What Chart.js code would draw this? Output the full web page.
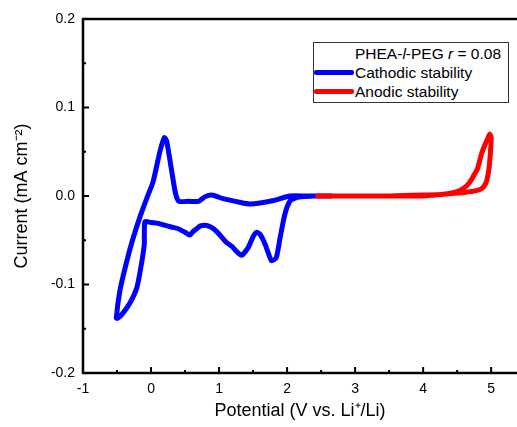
<!DOCTYPE html>
<html>
<head>
<meta charset="utf-8">
<script src="https://cdn.jsdelivr.net/npm/chart.js@4/dist/chart.umd.min.js"></script>
<style>
  html, body { margin: 0; padding: 0; background: #fff; }
  #wrap { position: relative; width: 517px; height: 427px; overflow: hidden; }
  canvas { display: block; }
  #legend {
    position: absolute; left: 313px; top: 42px; width: 194px; height: 59px;
    border: 1px solid #333; background: #fff;
    font-family: "Liberation Sans", Arial, sans-serif; font-size: 15.5px; color: #000;
  }
  #legend .row { position: absolute; left: 0; height: 19px; line-height: 19px; white-space: nowrap; }
  #legend .sw { position: absolute; left: 0; top: 7px; width: 40px; height: 5px; border-radius: 2px; }
  #legend .tx { position: absolute; left: 41px; top: 0; }
</style>
</head>
<body>
<div id="wrap">
  <canvas id="c" width="517" height="427"></canvas>
  <div id="legend">
    <div class="row" style="top:1px;"><span class="tx">PHEA-<i>l</i>-PEG <i>r</i> = 0.08</span></div>
    <div class="row" style="top:20px;"><span class="sw" style="background:#0000ff"></span><span class="tx">Cathodic stability</span></div>
    <div class="row" style="top:39px;"><span class="sw" style="background:#ff0000"></span><span class="tx">Anodic stability</span></div>
  </div>
</div>
<script>
// ---- data ----
const xTicks = [-1, 0, 1, 2, 3, 4, 5];
const yTicks = [-0.2, -0.1, 0.0, 0.1, 0.2];
const xMinorTicks = [-0.5, 0.5, 1.5, 2.5, 3.5, 4.5];
const yMinorTicks = [-0.15, -0.05, 0.05, 0.15];

const cathodicV = [2.65, 2.4, 2.2, 2.1, 2.04, 1.97, 1.9, 1.84, 1.77, 1.68, 1.6, 1.55, 1.5, 1.43, 1.33, 1.25, 1.19, 1.1, 1.0, 0.92, 0.85, 0.79, 0.72, 0.67, 0.62, 0.57, 0.5, 0.4, 0.3, 0.2, 0.11, 0.0, -0.09, -0.1, -0.15, -0.21, -0.31, -0.43, -0.49, -0.51, -0.46, -0.38, -0.28, -0.16, -0.06, 0.03, 0.13, 0.196, 0.23, 0.3, 0.36, 0.41, 0.55, 0.7, 0.79, 0.88, 0.95, 1.06, 1.3, 1.46, 1.8, 2.04, 2.3, 2.65];
const cathodicI = [0, 0, -0.001, -0.003, -0.006, -0.02, -0.046, -0.07, -0.073, -0.055, -0.043, -0.041, -0.046, -0.058, -0.067, -0.062, -0.057, -0.052, -0.043, -0.037, -0.034, -0.033, -0.034, -0.037, -0.040, -0.044, -0.041, -0.037, -0.035, -0.033, -0.031, -0.030, -0.029, -0.055, -0.081, -0.104, -0.121, -0.134, -0.138, -0.138, -0.108, -0.081, -0.052, -0.023, -0.002, 0.016, 0.05, 0.066, 0.062, 0.03, 0.003, -0.006, -0.006, -0.006, -0.001, 0.001, 0.0, -0.003, -0.007, -0.009, -0.005, 0.0, 0.0, 0.0];

const anodicV = [2.45, 3.0, 3.5, 4.0, 4.3, 4.5, 4.6, 4.68, 4.75, 4.8, 4.86, 4.92, 4.96, 4.98, 5.0, 4.99, 4.97, 4.93, 4.87, 4.78, 4.6, 4.3, 4.0, 3.5, 3.0, 2.45];
const anodicI = [0, 0, 0, 0.001, 0.002, 0.005, 0.009, 0.015, 0.024, 0.031, 0.048, 0.06, 0.067, 0.07, 0.066, 0.05, 0.032, 0.016, 0.009, 0.006, 0.004, 0.002, 0.0, 0, 0, 0];

const toXY = (xs, ys) => xs.map((x, i) => ({ x: x, y: ys[i] }));

const FONT = "'Liberation Sans', Arial, sans-serif";

const frame = {
  id: 'frame',
  afterDraw(chart) {
    const { ctx, chartArea: a, scales: { x, y } } = chart;
    ctx.save();
    ctx.strokeStyle = '#000';
    ctx.lineCap = 'butt';
    ctx.lineWidth = 2.5;
    ctx.beginPath();
    ctx.moveTo(a.right + 2, a.top);
    ctx.lineTo(a.left, a.top);
    ctx.lineTo(a.left, a.bottom);
    ctx.lineTo(a.right + 2, a.bottom);
    ctx.stroke();
    ctx.lineWidth = 2;
    ctx.beginPath();
    xTicks.forEach(v => { const px = x.getPixelForValue(v); ctx.moveTo(px, a.bottom); ctx.lineTo(px, a.bottom - 6); });
    xMinorTicks.forEach(v => { const px = x.getPixelForValue(v); ctx.moveTo(px, a.bottom); ctx.lineTo(px, a.bottom - 3); });
    yTicks.forEach(v => { const py = y.getPixelForValue(v); ctx.moveTo(a.left, py); ctx.lineTo(a.left + 6, py); });
    yMinorTicks.forEach(v => { const py = y.getPixelForValue(v); ctx.moveTo(a.left, py); ctx.lineTo(a.left + 3, py); });
    ctx.stroke();
    ctx.restore();
  }
};

new Chart(document.getElementById('c'), {
  type: 'scatter',
  data: {
    datasets: [
      { label: 'Anodic stability', data: toXY(anodicV, anodicI), showLine: true, borderColor: '#ff0000', backgroundColor: '#ff0000', borderWidth: 5, pointRadius: 0, tension: 0.25, order: 0, borderCapStyle: 'round', borderJoinStyle: 'round' },
      { label: 'Cathodic stability', data: toXY(cathodicV, cathodicI), showLine: true, borderColor: '#0000ff', backgroundColor: '#0000ff', borderWidth: 5, pointRadius: 0, tension: 0.2, order: 1, borderCapStyle: 'round', borderJoinStyle: 'round' }
    ]
  },
  options: {
    responsive: false,
    devicePixelRatio: 1,
    animation: false,
    layout: { padding: { top: 19, left: 0, right: 0, bottom: 0 } },
    plugins: { legend: { display: false }, tooltip: { enabled: false } },
    scales: {
      x: {
        type: 'linear', min: -1, max: 5.38,
        grid: { display: false, drawTicks: false },
        border: { display: false },
        afterBuildTicks: s => { s.ticks = xTicks.map(v => ({ value: v })); },
        afterFit: s => { s.height = 54; },
        ticks: { color: '#000', font: { family: FONT, size: 14 }, padding: 8, maxRotation: 0, callback: v => String(v) },
        title: { display: true, text: 'Potential (V vs. Li⁺/Li)', color: '#000', font: { family: FONT, size: 18 }, padding: { top: 0, bottom: 5 } }
      },
      y: {
        type: 'linear', min: -0.2, max: 0.2,
        grid: { display: false, drawTicks: false },
        border: { display: false },
        afterBuildTicks: s => { s.ticks = yTicks.map(v => ({ value: v })); },
        afterFit: s => { s.width = 83; },
        ticks: { color: '#000', font: { family: FONT, size: 14 }, padding: 8, callback: v => v.toFixed(1) },
        title: { display: true, text: 'Current (mA cm⁻²)', color: '#000', font: { family: FONT, size: 18 }, padding: { top: 11, bottom: 0 } }
      }
    }
  },
  plugins: [frame]
});
</script>
</body>
</html>
